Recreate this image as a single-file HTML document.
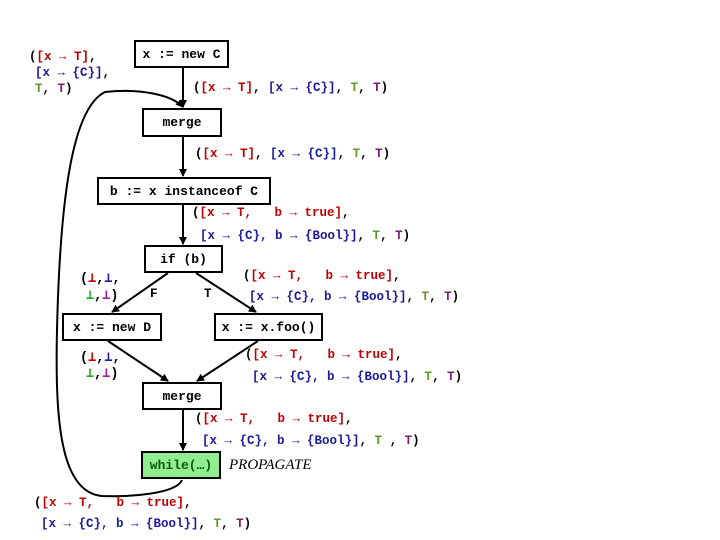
<!DOCTYPE html>
<html><head><meta charset="utf-8"><style>
body{margin:0;width:720px;height:540px;background:#fff;position:relative;overflow:hidden;font-family:"Liberation Mono","DejaVu Sans Mono",monospace;font-weight:bold;font-size:12.5px}
.b{position:absolute;border:2px solid #000;box-sizing:border-box;background:#fff;display:flex;align-items:center;justify-content:center;font-size:13px;white-space:pre}
.t{position:absolute;white-space:pre}
.r{color:#c00000}.u{color:#1a1a9a}.g{color:#5f9a2a}.p{color:#7a2070}.G{color:#20b020}.P{color:#a020a0}
</style></head><body>
<svg width="720" height="540" style="position:absolute;left:0;top:0">
<defs><marker id="a" markerWidth="8" markerHeight="8" refX="7" refY="4" orient="auto" markerUnits="userSpaceOnUse"><path d="M0,0L8,4L0,8z"/></marker></defs>
<g stroke="#000" stroke-width="2" fill="none">
<line x1="183" y1="68" x2="183" y2="107" marker-end="url(#a)"/>
<line x1="183" y1="137" x2="183" y2="176" marker-end="url(#a)"/>
<line x1="183" y1="205" x2="183" y2="244" marker-end="url(#a)"/>
<line x1="168" y1="273" x2="112" y2="312" marker-end="url(#a)"/>
<line x1="196" y1="273" x2="256" y2="312" marker-end="url(#a)"/>
<line x1="108" y1="341" x2="168" y2="381" marker-end="url(#a)"/>
<line x1="258" y1="341" x2="197" y2="381" marker-end="url(#a)"/>
<line x1="183" y1="410" x2="183" y2="450" marker-end="url(#a)"/>
<path d="M182,480 C176,494 130,497 102,496 C60,492 55,420 57,330 C60,200 72,108 105,92 C140,88 172,95 183,107" marker-end="url(#a)"/>
</g></svg>
<div class="b" style="left:134px;top:40px;width:95px;height:28px">x := new C</div>
<div class="b" style="left:142px;top:108px;width:80px;height:29px">merge</div>
<div class="b" style="left:97px;top:177px;width:174px;height:28px">b := x instanceof C</div>
<div class="b" style="left:144px;top:245px;width:79px;height:28px">if (b)</div>
<div class="b" style="left:62px;top:313px;width:100px;height:28px">x := new D</div>
<div class="b" style="left:214px;top:313px;width:109px;height:28px">x := x.foo()</div>
<div class="b" style="left:142px;top:382px;width:80px;height:28px">merge</div>
<div class="b" style="left:141px;top:451px;width:80px;height:28px;background:#90ee90;color:#0a5a0a">while(…)</div>
<div class="t" style="left:229px;top:457px;font-family:'Liberation Serif',serif;font-style:italic;font-weight:normal;font-size:15px">PROPAGATE</div>

<div class="t" style="left:29px;top:50px">(<span class="r">[x → T]</span>,</div>
<div class="t" style="left:35px;top:66px"><span class="u">[x → {C}]</span>,</div>
<div class="t" style="left:35px;top:82px"><span class="g">T</span>, <span class="p">T</span>)</div>

<div class="t" style="left:193px;top:81px">(<span class="r">[x → T]</span>, <span class="u">[x → {C}]</span>, <span class="g">T</span>, <span class="p">T</span>)</div>
<div class="t" style="left:195px;top:147px">(<span class="r">[x → T]</span>, <span class="u">[x → {C}]</span>, <span class="g">T</span>, <span class="p">T</span>)</div>

<div class="t" style="left:192px;top:206px">(<span class="r">[x → T,   b → true]</span>,</div>
<div class="t" style="left:200px;top:229px"><span class="u">[x → {C}, b → {Bool}]</span>, <span class="g">T</span>, <span class="p">T</span>)</div>

<div class="t" style="left:243px;top:269px">(<span class="r">[x → T,   b → true]</span>,</div>
<div class="t" style="left:249px;top:290px"><span class="u">[x → {C}, b → {Bool}]</span>, <span class="g">T</span>, <span class="p">T</span>)</div>
<div class="t" style="left:150px;top:287px">F</div>
<div class="t" style="left:204px;top:287px">T</div>
<div class="t" style="left:80px;top:270px;font-size:13.5px">(<span class="r">⊥</span>,<span class="u">⊥</span>,</div>
<div class="t" style="left:86px;top:287px;font-size:13.5px"><span class="G">⊥</span>,<span class="P">⊥</span>)</div>
<div class="t" style="left:80px;top:349px;font-size:13.5px">(<span class="r">⊥</span>,<span class="u">⊥</span>,</div>
<div class="t" style="left:86px;top:365px;font-size:13.5px"><span class="G">⊥</span>,<span class="P">⊥</span>)</div>

<div class="t" style="left:245px;top:348px">(<span class="r">[x → T,   b → true]</span>,</div>
<div class="t" style="left:252px;top:370px"><span class="u">[x → {C}, b → {Bool}]</span>, <span class="g">T</span>, <span class="p">T</span>)</div>

<div class="t" style="left:195px;top:412px">(<span class="r">[x → T,   b → true]</span>,</div>
<div class="t" style="left:202px;top:434px"><span class="u">[x → {C}, b → {Bool}]</span>, <span class="g">T</span> , <span class="p">T</span>)</div>

<div class="t" style="left:34px;top:496px">(<span class="r">[x → T,   b → true]</span>,</div>
<div class="t" style="left:41px;top:517px"><span class="u">[x → {C}, b → {Bool}]</span>, <span class="g">T</span>, <span class="p">T</span>)</div>
</body></html>
